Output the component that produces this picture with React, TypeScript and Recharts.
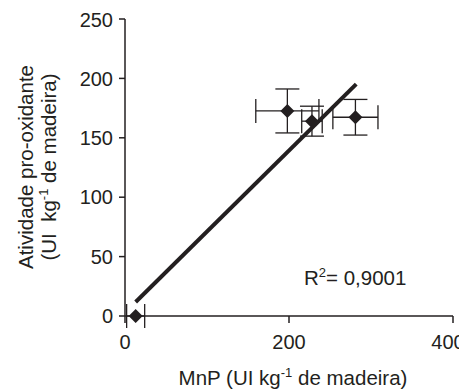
import React from "react";
import { ScatterChart, Scatter, XAxis, YAxis, ErrorBar } from "recharts";

// MnP x atividade pro-oxidante (média ± desvio)
const mnp = [13, 198, 228, 281];
const atividade = [0, 172.6, 164, 167.3];
const mnpErr = [11, 38.5, 12.5, 27.5];
const atividadeErr = [0, 18.5, 12.6, 15];

// reta de regressão (extremos)
const fitX = [13, 282];
const fitY = [11.8, 195.2];

const xTicks = [0, 200, 400];
const yTicks = [0, 50, 100, 150, 200, 250];

const FONT = "'Liberation Sans', Arial, sans-serif";
const INK = "#231f20";

const pontos = mnp.map((x, i) => ({
  x,
  y: atividade[i],
  ex: mnpErr[i],
  ey: atividadeErr[i],
}));

const reta = fitX.map((x, i) => ({ x, y: fitY[i] }));

const Losango = (props: any) => {
  const { cx, cy } = props;
  const r = 7;
  return (
    <path
      d={`M${cx},${cy - r}L${cx + r},${cy}L${cx},${cy + r}L${cx - r},${cy}Z`}
      fill={INK}
    />
  );
};

// o último rótulo do eixo x fica um pouco à esquerda, como no original
const XTick = (props: any) => {
  const { x, y, payload, index } = props;
  const last = index === xTicks.length - 1;
  return (
    <text
      x={last ? x - 5 : x}
      y={y}
      dy="0.71em"
      textAnchor="middle"
      fill={INK}
      fontSize={20}
      fontFamily={FONT}
    >
      {payload.value}
    </text>
  );
};

export default function App() {
  return (
    <ScatterChart
      width={459}
      height={383}
      margin={{ top: 11, right: 14, bottom: 35, left: 57 }}
    >
      <XAxis
        type="number"
        dataKey="x"
        domain={[0, 400]}
        ticks={xTicks}
        tick={<XTick />}
        tickSize={7}
        tickMargin={12}
        height={40}
        axisLine={{ stroke: INK, strokeWidth: 1.5 }}
        tickLine={{ stroke: INK, strokeWidth: 1.5 }}
      />
      <YAxis
        type="number"
        dataKey="y"
        domain={[0, 250]}
        ticks={yTicks}
        tick={{ fill: INK, fontSize: 20, fontFamily: FONT }}
        tickSize={6}
        tickMargin={6}
        width={60}
        axisLine={{ stroke: INK, strokeWidth: 1.5 }}
        tickLine={{ stroke: INK, strokeWidth: 1.5 }}
      />
      <Scatter
        data={pontos}
        shape={<Losango />}
        isAnimationActive={false}
      >
        <ErrorBar dataKey="ex" direction="x" width={12} stroke={INK} strokeWidth={1.3} />
        <ErrorBar dataKey="ey" direction="y" width={12} stroke={INK} strokeWidth={1.3} />
      </Scatter>
      <Scatter
        data={reta}
        line={{ stroke: INK, strokeWidth: 4 }}
        shape={() => <g />}
        isAnimationActive={false}
      />
      <text x={296} y={277} fill={INK} fontSize={20.5} fontFamily={FONT}>
        R<tspan fontSize={13} dy={-8}>2</tspan>
        <tspan dy={8}>= 0,9001</tspan>
      </text>
      <text
        x={285}
        y={377}
        fill={INK}
        fontSize={20.5}
        fontFamily={FONT}
        textAnchor="middle"
        style={{ whiteSpace: "pre" }}
      >
        MnP (UI kg<tspan fontSize={13} dy={-8}>-1</tspan>
        <tspan dy={8}> de madeira)</tspan>
      </text>
      <g transform="rotate(-90)" fill={INK} fontSize={20.5} fontFamily={FONT}>
        <text x={-159} y={25} textAnchor="middle">
          Atividade pro-oxidante
        </text>
        <text x={-159} y={48} textAnchor="middle" style={{ whiteSpace: "pre" }}>
          (UI  kg<tspan fontSize={13} dy={-8}>-1</tspan>
          <tspan dy={8}> de madeira)</tspan>
        </text>
      </g>
    </ScatterChart>
  );
}
